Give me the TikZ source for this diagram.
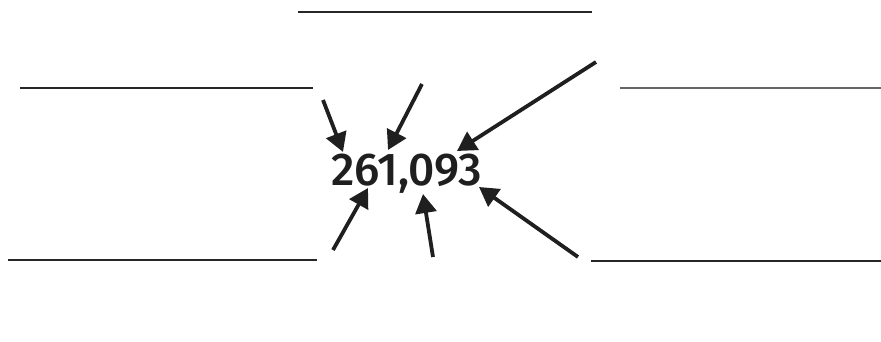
\documentclass[tikz,border=0pt]{standalone}
\usepackage{fontspec}
\setmainfont{Fira Sans}
\newfontfamily\numfont{Fira Sans Medium}
\usetikzlibrary{arrows.meta}
\begin{document}
\begin{tikzpicture}[x=1pt,y=-1pt,
  blank/.style={line width=1.2pt,draw=black!85},
  pointer/.style={line width=3.8pt,draw=black!88,
    -{Triangle[length=19pt,width=21pt]},shorten >=0pt},
  numlabel/.style={font=\numfont\fontsize{46}{50}\selectfont,text=black!88,inner sep=0pt}]
  \useasboundingbox (0,0) rectangle (881,342);
  % the number in the middle
  \node[numlabel] (num) at (407,174) {261,093};
  % answer lines
  \coordinate (t1) at (298,12);  \coordinate (t2) at (592,12);
  \coordinate (ul1) at (20,88);  \coordinate (ul2) at (313,88);
  \coordinate (ur1) at (620,88); \coordinate (ur2) at (881,88);
  \coordinate (ll1) at (8,260);  \coordinate (ll2) at (317,260);
  \coordinate (lr1) at (591,261);\coordinate (lr2) at (881,261);
  \draw[blank] (t1) -- (t2);
  \draw[blank] (ul1) -- (ul2);
  \draw[blank,draw=black!60] (ur1) -- (ur2);
  \draw[blank] (ll1) -- (ll2);
  \draw[blank] (lr1) -- (lr2);
  % arrows pointing at the digits
  \coordinate (a1) at (323,100); \coordinate (b1) at (343,152);
  \coordinate (a2) at (422,84);  \coordinate (b2) at (388,150);
  \coordinate (a3) at (596,62);  \coordinate (b3) at (457,151);
  \coordinate (a4) at (333,250); \coordinate (b4) at (368,188);
  \coordinate (a5) at (433,257); \coordinate (b5) at (423,194);
  \coordinate (a6) at (578,257); \coordinate (b6) at (479,187);
  \foreach \i in {1,...,6} \draw[pointer] (a\i) -- (b\i);
\end{tikzpicture}
\end{document}
